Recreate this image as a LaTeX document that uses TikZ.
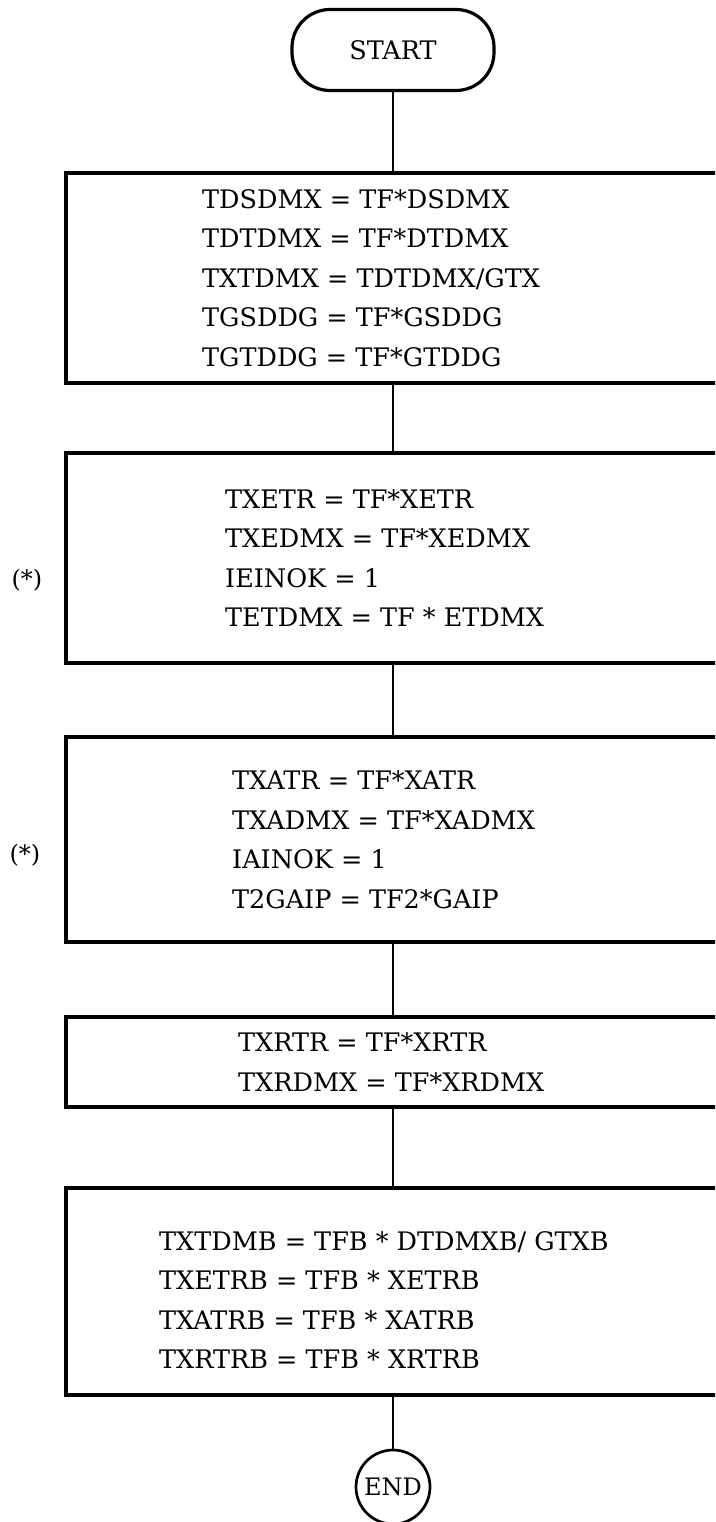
\documentclass[tikz,border=0pt]{standalone}
\usepackage{fontspec}
\setmainfont{DejaVu Serif}
\usepackage{tikz}
\usetikzlibrary{positioning}

\begin{document}
\begin{tikzpicture}[x=1pt, y=-1pt,
  box/.style={draw, line width=3.2pt, minimum width=654pt, inner sep=0pt},
  eqs/.style={anchor=west, align=left, inner sep=0pt, font=\fontsize{25.5}{39.5}\selectfont},
  link/.style={line width=2.7pt},
  mark star/.style={font=\fontsize{24}{28}\selectfont}]

  % page frame (the boxes run off the right edge)
  \useasboundingbox (0,0) rectangle (715,1522);
  \clip (0,0) rectangle (715,1522);

  % --- Terminals ---
  \node[draw, line width=3.2pt, rounded corners=38pt, minimum width=202pt, minimum height=81pt,
        font=\fontsize{25.5}{30}\selectfont] (start) at (393,50) {START};
  \node[draw, circle, line width=2.7pt, minimum size=74pt, inner sep=0pt,
        font=\fontsize{24}{30}\selectfont] (end) at (393,1487) {END};

  % --- Box 1 ---
  \node[box, minimum height=210pt] (b1) at (393,278) {};
  \node[eqs] (t1) at (202,278) {TDSDMX = TF*DSDMX\\ TDTDMX = TF*DTDMX\\ TXTDMX = TDTDMX/GTX\\ TGSDDG = TF*GSDDG\\ TGTDDG = TF*GTDDG};

  % --- Box 2 ---
  \node[box, minimum height=210pt] (b2) at (393,558) {};
  \node[eqs] (t2) at (225,558) {TXETR = TF*XETR\\ TXEDMX = TF*XEDMX\\ IEINOK = 1\\ TETDMX = TF * ETDMX};
  \node[mark star] (s2) at (27,580) {(*)};

  % --- Box 3 ---
  \node[box, minimum height=205pt] (b3) at (393,839.5) {};
  \node[eqs] (t3) at (232,839.5) {TXATR = TF*XATR\\ TXADMX = TF*XADMX\\ IAINOK = 1\\ T2GAIP = TF2*GAIP};
  \node[mark star] (s3) at (25,855) {(*)};

  % --- Box 4 ---
  \node[box, minimum height=90pt] (b4) at (393,1062) {};
  \node[eqs] (t4) at (238,1062) {TXRTR = TF*XRTR\\ TXRDMX = TF*XRDMX};

  % --- Box 5 ---
  \node[box, minimum height=207pt] (b5) at (393,1291.5) {};
  \node[eqs] (t5) at (159,1300) {TXTDMB = TFB * DTDMXB/ GTXB\\ TXETRB = TFB * XETRB\\ TXATRB = TFB * XATRB\\ TXRTRB = TFB * XRTRB};

  % connectors
  \foreach \a/\b in {start/b1, b1/b2, b2/b3, b3/b4, b4/b5, b5/end}
    \draw[link] (\a) -- (\b);
\end{tikzpicture}
\end{document}
